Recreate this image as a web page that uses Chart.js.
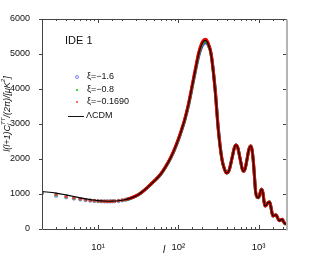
<!DOCTYPE html>
<html>
<head>
<meta charset="utf-8">
<script src="https://cdn.jsdelivr.net/npm/chart.js@4.4.1/dist/chart.umd.min.js"></script>
<style>
  body { margin: 0; background: #fff; }
  #wrap { width: 316px; height: 258px; }
</style>
</head>
<body>
<div id="wrap"><canvas id="chart" width="316" height="258"></canvas></div>
<script>
// multipole l
const ell = [2,3,4,5,6,7,8,9,10,11,12,13,14,15,16,18,20,22,25,30,
  35,40,50,60,70,80,90,100,110,120,135,150,165,180,200,218,235,256,287,315,
  350,380,400,430,470,500,522,550,590,630,650,680,720,760,800,830,860,890,920,960,
  1000,1040,1084,1130,1170,1203,1250,1310,1377,1430,1480,1514,1560,1610,1660,1720,1780,1833,1900,1973,
  2050,2120,2200];

// LCDM curve
const lcdm = [1070,1025,975,930,890,860,840,825,812,803,798,795,795,796,798,808,822,840,875,950,
  1050,1160,1370,1560,1790,2030,2290,2560,2840,3120,3600,4130,4610,5020,5320,5390,5290,4990,3990,2830,
  1980,1680,1600,1680,2050,2320,2400,2330,2000,1700,1650,1720,2000,2280,2370,2260,1950,1500,1060,910,
  895,1000,1134,1050,800,657,680,750,771,620,430,371,380,400,400,330,260,238,260,277,
  210,160,135];

// xi = -1.6
const xiA = [1020,950,905,870,845,825,810,800,795,790,788,787,788,790,793,803,818,835,870,945,
  1045,1155,1365,1550,1780,2015,2270,2535,2815,3090,3560,4080,4550,4950,5250,5320,5260,5020,4050,2900,
  2000,1690,1600,1680,2050,2320,2400,2330,2000,1700,1650,1720,2000,2280,2370,2260,1950,1500,1060,910,
  895,1000,1134,1050,800,657,680,750,771,620,430,371,380,400,400,330,260,238,260,277,
  210,160,135];

// xi = -0.8
const xiB = [1030,965,915,880,850,830,815,805,798,793,790,789,790,792,795,805,820,837,872,948,
  1048,1158,1368,1556,1786,2024,2282,2550,2830,3110,3585,4110,4590,5000,5300,5370,5280,5000,4010,2850,
  1990,1685,1600,1680,2050,2320,2400,2330,2000,1700,1650,1720,2000,2280,2370,2260,1950,1500,1060,910,
  895,1000,1134,1050,800,657,680,750,771,620,430,371,380,400,400,330,260,238,260,277,
  210,160,135];

// xi = -0.1690
const xiC = [1045,990,930,890,860,835,820,808,800,795,792,791,792,794,797,807,822,840,875,952,
  1052,1163,1375,1565,1796,2038,2298,2570,2852,3135,3615,4150,4635,5050,5350,5420,5320,5010,4000,2840,
  1985,1682,1600,1682,2052,2322,2402,2332,2002,1702,1652,1722,2002,2282,2372,2262,1952,1502,1062,912,
  897,1002,1136,1052,802,659,682,752,773,622,432,373,382,402,402,332,262,240,262,279,
  212,162,137];

const yTicks = [0,1000,2000,3000,4000,5000,6000];
const xLabels = { 10: "10\u00B9", 100: "10\u00B2", 1000: "10\u00B3" };
const legendNames = ["\u03BE=\u22121.6", "\u03BE=\u22120.8", "\u03BE=\u22120.1690", "\u039BCDM"];
const FONT = '"Liberation Sans", Arial, sans-serif';

function pts(vals) {
    return ell.map((l, i) => ({x: l, y: vals[i]}));
}

function isMajor(v) {
    let e = Math.log10(v);
    return Math.abs(e - Math.round(e)) < 1e-9;
}

// colored series: separate markers at low l, a dense band above
function series(vals, color, pointColor, style, ord) {
    return {
        data: pts(vals),
        borderColor: color,
        borderWidth: 3,
        pointStyle: style,
        pointRadius: c => ell[c.dataIndex] <= 22 ? 1.6 : 0,
        pointBorderWidth: 0.8,
        pointBorderColor: pointColor,
        pointBackgroundColor: style === "circle" ? "rgba(255,255,255,0)" : pointColor,
        segment: { borderColor: c => c.p0.parsed.x < 22 ? "rgba(0,0,0,0)" : color },
        cubicInterpolationMode: "monotone",
        order: ord
    };
}

const frame = {
    id: "frame",
    afterDatasetsDraw(chart) {
        let {ctx, chartArea: a, scales: {x, y}} = chart;
        ctx.save();
        ctx.strokeStyle = "#444";
        ctx.lineWidth = 1;
        function seg(x1, y1, x2, y2) {
            ctx.beginPath(); ctx.moveTo(x1, y1); ctx.lineTo(x2, y2); ctx.stroke();
        }
        x.ticks.forEach(t => {
            let px = Math.round(x.getPixelForValue(t.value)) + 0.5;
            let len = isMajor(t.value) ? 4 : 2;
            seg(px, a.bottom, px, a.bottom - len);
            seg(px, a.top, px, a.top + len);
        });
        y.ticks.forEach(t => {
            let py = Math.round(y.getPixelForValue(t.value)) + 0.5;
            seg(a.left - 3, py, a.left, py);
            seg(a.right - 3, py, a.right, py);
        });
        let L = Math.round(a.left) + 0.5, R = Math.round(a.right) + 0.5;
        let T = Math.round(a.top) + 0.5, B = Math.round(a.bottom) + 0.5;
        seg(L, T, R, T);
        seg(L, T, L, B);
        seg(L, B, R, B);
        ctx.strokeStyle = "#b4b4b4";
        ctx.lineWidth = 2;
        seg(R + 0.5, T, R + 0.5, B + 1);
        ctx.restore();
    },
    afterDraw(chart) {
        let ctx = chart.ctx;
        ctx.save();
        ctx.fillStyle = "#111";
        ctx.textBaseline = "middle";
        ctx.textAlign = "left";
        ctx.font = "11px " + FONT;
        ctx.fillText("IDE 1", 65, 41);

        // legend
        ctx.font = "9px " + FONT;
        let rows = [77, 90, 102, 116];
        ctx.strokeStyle = "#5a5aff"; ctx.lineWidth = 0.8;
        ctx.beginPath(); ctx.arc(77, rows[0], 1.5, 0, Math.PI * 2); ctx.stroke();
        ctx.fillStyle = "#3cdc3c"; ctx.fillRect(76, rows[1] - 1, 2, 2);
        ctx.fillStyle = "#ff6a6a"; ctx.fillRect(76, rows[2] - 1, 2, 2);
        ctx.strokeStyle = "#111"; ctx.lineWidth = 1;
        ctx.beginPath(); ctx.moveTo(68, rows[3] + 0.5); ctx.lineTo(84, rows[3] + 0.5); ctx.stroke();
        ctx.fillStyle = "#111";
        for (let i = 0; i < 3; i++) ctx.fillText(legendNames[i], 87, rows[i]);
        ctx.fillText(legendNames[3], 86, rows[3]);

        // y axis title, rotated, with sub/superscripts
        let big = "italic 9px " + FONT, small = "italic 6px " + FONT;
        let runs = [
            {t: "l(l+1)C", f: big, dy: 0},
            {t: "l", f: small, dy: 2.5, stack: true},
            {t: "TT", f: small, dy: -3.5},
            {t: "/(2\u03C0)/[\u03BCK", f: big, dy: 0},
            {t: "2", f: small, dy: -3.5},
            {t: "]", f: big, dy: 0}
        ];
        let total = 0;
        runs.forEach(r => { ctx.font = r.f; r.w = ctx.measureText(r.t).width; if (!r.stack) total += r.w; });
        ctx.translate(7, 114);
        ctx.rotate(-Math.PI / 2);
        let cx = -total / 2;
        runs.forEach(r => {
            ctx.font = r.f;
            ctx.fillText(r.t, cx, r.dy);
            if (!r.stack) cx += r.w;
        });
        ctx.restore();
    }
};

new Chart(document.getElementById("chart"), {
    type: "line",
    data: {
        datasets: [
            {
                data: pts(lcdm),
                borderColor: "#000",
                borderWidth: 1.1,
                pointRadius: 0,
                cubicInterpolationMode: "monotone",
                order: 0
            },
            series(xiC, "#ee0000", "#e04040", "rect", 1),
            series(xiB, "#00c000", "#40d040", "rect", 2),
            series(xiA, "#3c3cff", "#4a4aff", "circle", 3)
        ]
    },
    options: {
        responsive: false,
        animation: false,
        events: [],
        layout: { padding: { left: 0, right: 30, top: 19, bottom: 0 } },
        plugins: { legend: { display: false }, tooltip: { enabled: false } },
        scales: {
            x: {
                type: "logarithmic",
                min: 2,
                max: 2200,
                grid: { display: false },
                border: { display: false },
                afterFit: s => { s.height = 29; },
                ticks: {
                    autoSkip: false,
                    maxRotation: 0,
                    padding: 5,
                    color: "#111",
                    font: { family: FONT, size: 9.5 },
                    callback: v => xLabels[Math.round(v)] && isMajor(v) ? xLabels[Math.round(v)] : ""
                },
                title: {
                    display: true,
                    text: "l",
                    color: "#111",
                    font: { family: FONT, size: 10, style: "italic" },
                    padding: { top: 0, bottom: 2 }
                }
            },
            y: {
                min: 0,
                max: 6000,
                afterFit: s => { s.width = 42; },
                afterBuildTicks: s => { s.ticks = yTicks.map(v => ({value: v})); },
                grid: { display: false },
                border: { display: false },
                ticks: {
                    padding: 4,
                    color: "#111",
                    font: { family: FONT, size: 9 },
                    callback: v => String(v)
                }
            }
        }
    },
    plugins: [frame]
});
</script>
</body>
</html>
